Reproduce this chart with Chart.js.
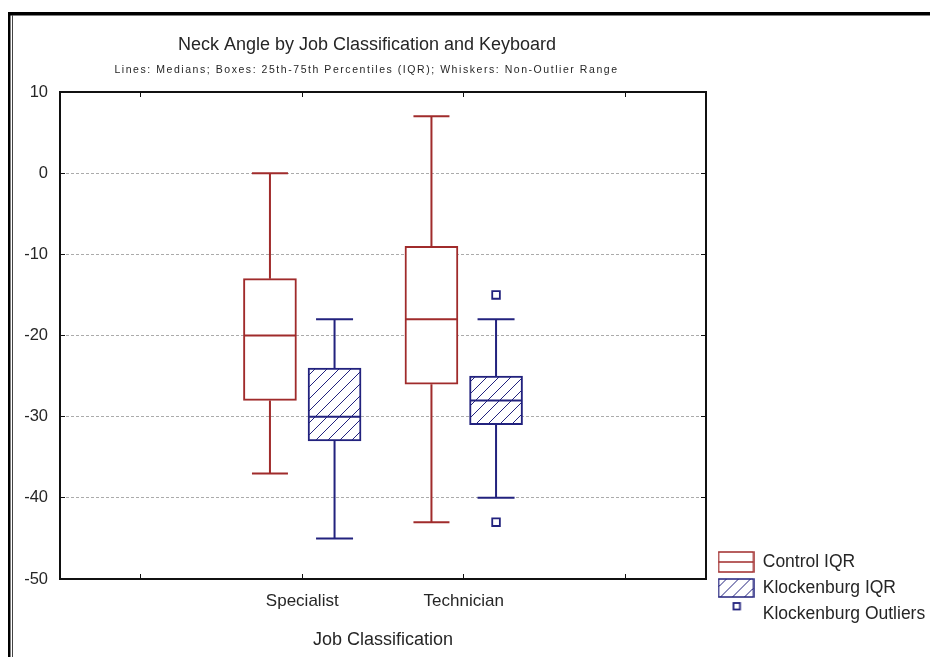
<!DOCTYPE html>
<html><head><meta charset="utf-8">
<script src="https://cdn.jsdelivr.net/npm/chart.js@4/dist/chart.umd.min.js"></script>
<style>html,body{margin:0;padding:0;background:#fff;}#wrap{width:930px;height:657px;}</style>
</head><body><div id="wrap"><canvas id="c" width="930" height="657"></canvas></div>
<script>
// ---------- data ----------
const categories = ['Specialist', 'Technician'];
const xTickLabels = ['', 'Specialist', 'Technician', ''];
const yTicks = [10, 0, -10, -20, -30, -40, -50];
const controlMin = [-37, -43];
const controlQ1 = [-28, -26];
const controlMedian = [-20, -18];
const controlQ3 = [-13, -9];
const controlMax = [0, 7];
const klockMin = [-45, -40];
const klockQ1 = [-33, -31];
const klockMedian = [-30, -28];
const klockQ3 = [-24, -25];
const klockMax = [-18, -18];
const klockOutlierCategory = ['Technician', 'Technician'];
const klockOutlierValue = [-15, -43];
const seriesNames = ['Control IQR', 'Klockenburg IQR', 'Klockenburg Outliers'];
const titleText = 'Neck Angle by Job Classification and Keyboard';
const subtitleText = 'Lines: Medians; Boxes: 25th-75th Percentiles (IQR); Whiskers: Non-Outlier Range';
const xAxisTitle = 'Job Classification';

// ---------- styles ----------
const RED = '#a02b2b';
const NAVY = '#22227e';
const TEXT = '#262626';
const GROUP_OFFSET = 0.2;
Chart.defaults.font.family = "'Liberation Sans', Arial, sans-serif";
Chart.defaults.color = TEXT;

const canvas = document.getElementById('c');
const mainCtx = canvas.getContext('2d');

function hatchTile() {
  const c = document.createElement('canvas'); c.width = 12; c.height = 12;
  const g = c.getContext('2d');
  g.fillStyle = '#fff'; g.fillRect(0, 0, 12, 12);
  g.strokeStyle = NAVY; g.lineWidth = 1;
  g.beginPath();
  g.moveTo(0, 12); g.lineTo(12, 0);
  g.moveTo(-6, 6); g.lineTo(6, -6);
  g.moveTo(6, 18); g.lineTo(18, 6);
  g.stroke();
  return c;
}
const hatchPattern = mainCtx.createPattern(hatchTile(), 'repeat');

function makeIcon(kind) {
  const c = document.createElement('canvas'); c.width = 37; c.height = 24;
  const g = c.getContext('2d');
  if (kind === 0) {
    g.strokeStyle = RED; g.lineWidth = 1.5;
    g.strokeRect(1, 2, 35, 20);
    g.beginPath(); g.moveTo(1, 12); g.lineTo(36, 12); g.stroke();
  } else if (kind === 1) {
    g.fillStyle = g.createPattern(hatchTile(), 'repeat');
    g.fillRect(1, 3, 35, 18);
    g.strokeStyle = NAVY; g.lineWidth = 1.5;
    g.strokeRect(1, 3, 35, 18);
  } else {
    g.fillStyle = '#fff'; g.strokeStyle = NAVY; g.lineWidth = 1.8;
    g.fillRect(16, 1, 6.5, 6.5); g.strokeRect(16, 1, 6.5, 6.5);
  }
  return c;
}
const icons = [makeIcon(0), makeIcon(1), makeIcon(2)];

// ---------- build datasets from arrays ----------
const catPos = c => xTickLabels.indexOf(c) + 0.5;
const pos = (i, side) => catPos(categories[i]) + side * GROUP_OFFSET;
const boxData = (q1, q3, side) => categories.map((c, i) => ({x: pos(i, side), y: [q1[i], q3[i]]}));
const whiskerData = (mn, q1, q3, mx, side) => {
  const out = [];
  categories.forEach((c, i) => {
    const x = pos(i, side);
    out.push({x, y: mx[i]}, {x, y: q3[i]}, {x, y: null}, {x, y: q1[i]}, {x, y: mn[i]}, {x, y: null});
  });
  return out;
};
const capData = (mn, mx, side) => {
  const out = [];
  categories.forEach((c, i) => { out.push({x: pos(i, side), y: mx[i]}, {x: pos(i, side), y: mn[i]}); });
  return out;
};
const medianData = (md, side) => categories.map((c, i) => ({x: pos(i, side), y: md[i]}));
const outlierData = klockOutlierCategory.map((c, k) => ({x: catPos(c) + GROUP_OFFSET, y: klockOutlierValue[k]}));

const datasets = [
  {type: 'bar', label: seriesNames[0], data: boxData(controlQ1, controlQ3, -1), backgroundColor: '#fff', borderColor: RED, borderWidth: 2, borderSkipped: false, barThickness: 53, grouped: false, order: 2},
  {type: 'bar', label: seriesNames[1], data: boxData(klockQ1, klockQ3, 1), backgroundColor: hatchPattern, borderColor: NAVY, borderWidth: 2, borderSkipped: false, barThickness: 53, grouped: false, order: 2},
  {type: 'line', label: 'Control whiskers', data: whiskerData(controlMin, controlQ1, controlQ3, controlMax, -1), borderColor: RED, borderWidth: 2, pointRadius: 0, spanGaps: false, fill: false, order: 3},
  {type: 'line', label: 'Klockenburg whiskers', data: whiskerData(klockMin, klockQ1, klockQ3, klockMax, 1), borderColor: NAVY, borderWidth: 2, pointRadius: 0, spanGaps: false, fill: false, order: 3},
  {type: 'scatter', label: 'Control caps', data: capData(controlMin, controlMax, -1), pointStyle: 'line', pointRadius: 18, pointHoverRadius: 18, pointBorderColor: RED, borderColor: RED, pointBorderWidth: 2, order: 3},
  {type: 'scatter', label: 'Klockenburg caps', data: capData(klockMin, klockMax, 1), pointStyle: 'line', pointRadius: 18.5, pointHoverRadius: 18.5, pointBorderColor: NAVY, borderColor: NAVY, pointBorderWidth: 2, order: 3},
  {type: 'scatter', label: 'Control median', data: medianData(controlMedian, -1), pointStyle: 'line', pointRadius: 25.5, pointHoverRadius: 25.5, pointBorderColor: RED, borderColor: RED, pointBorderWidth: 2, order: 0},
  {type: 'scatter', label: 'Klockenburg median', data: medianData(klockMedian, 1), pointStyle: 'line', pointRadius: 25.5, pointHoverRadius: 25.5, pointBorderColor: NAVY, borderColor: NAVY, pointBorderWidth: 2, order: 0},
  {type: 'scatter', label: seriesNames[2], data: outlierData, pointStyle: 'rect', pointRadius: 5.4, pointHoverRadius: 5.4, pointBackgroundColor: '#fff', pointBorderColor: NAVY, pointBorderWidth: 1.8, order: 1}
];

const hideEnds = (ctx, col) => (ctx.tick && (ctx.tick.value === yTicks[0] || ctx.tick.value === yTicks[yTicks.length - 1])) ? 'rgba(0,0,0,0)' : col;
const xTicksBuild = s => { s.ticks = xTickLabels.map((l, i) => ({value: i + 0.5})); };
const yTicksBuild = s => { s.ticks = yTicks.map(v => ({value: v})); };

const layoutPlugin = {
  id: 'layoutFix',
  beforeLayout(chart) {
    const lg = chart.legend;
    if (lg && !lg._fitPatched) {
      const f = lg.fit;
      lg.fit = function () { f.call(this); this.width = 0; };
      lg._fitPatched = true;
    }
  },
  afterLayout(chart) {
    const lg = chart.legend;
    if (lg) {
      lg.left = 709.5; lg.right = 930; lg.top = 544.75; lg.bottom = 657;
      lg.width = lg.right - lg.left; lg.height = lg.bottom - lg.top;
    }
    chart.boxes.forEach(b => {
      if (!b.options) return;
      if (b.options.text === titleText) { b.left = 0; b.right = 734; b.width = 734; }
      if (b.options.text === subtitleText) {
        b.left = 0; b.right = 733; b.width = 733;
        if (!b._lsPatched) {
          const d = b.draw;
          b.draw = function (a) { const c = this.ctx; c.save(); c.letterSpacing = '1.55px'; d.call(this, a); c.restore(); };
          b._lsPatched = true;
        }
      }
    });
  },
  beforeDraw(chart) {
    const c = chart.ctx;
    c.save();
    c.fillStyle = '#fff'; c.fillRect(0, 0, chart.width, chart.height);
    c.fillStyle = '#000';
    c.fillRect(8, 12, chart.width - 8, 3.5);
    c.fillRect(8, 12, 2.5, chart.height - 12);
    c.fillStyle = '#444';
    c.fillRect(12, 15, 1, chart.height - 15);
    c.restore();
  }
};

new Chart(canvas, {
  type: 'bar',
  data: {datasets},
  options: {
    responsive: false,
    animation: false,
    devicePixelRatio: 1,
    layout: {padding: 0},
    plugins: {
      tooltip: {enabled: false},
      title: {display: true, text: titleText, font: {size: 18, weight: 'normal'}, color: TEXT, padding: {top: 34, bottom: 4}},
      subtitle: {display: true, text: subtitleText, font: {size: 10.5, weight: 'normal'}, color: TEXT, padding: {top: 4, bottom: 0}},
      legend: {
        display: true, position: 'right', align: 'start',
        labels: {
          usePointStyle: true, pointStyleWidth: 36, padding: 8.5, font: {size: 17.5}, color: TEXT,
          generateLabels: () => seriesNames.map((n, i) => ({text: n, pointStyle: icons[i], fontColor: TEXT, fillStyle: 'rgba(0,0,0,0)', strokeStyle: 'rgba(0,0,0,0)', lineWidth: 0, hidden: false, datasetIndex: i}))
        }
      }
    },
    scales: {
      x: {
        type: 'linear', position: 'bottom', min: 0, max: xTickLabels.length, offset: false,
        afterBuildTicks: xTicksBuild,
        afterFit: s => { s.height = 78; },
        ticks: {callback: v => xTickLabels[Math.floor(v)], font: {size: 17}, padding: 17, maxRotation: 0, autoSkip: false, color: TEXT},
        grid: {drawOnChartArea: false, drawTicks: true, tickLength: -5, tickColor: '#111', tickWidth: 1, offset: false},
        border: {display: true, color: '#111', width: 2},
        title: {display: true, text: xAxisTitle, font: {size: 18}, padding: {top: 0, bottom: 6}, color: TEXT}
      },
      x2: {
        type: 'linear', position: 'top', min: 0, max: xTickLabels.length, offset: false, display: true,
        afterBuildTicks: xTicksBuild,
        afterFit: s => { s.height = 15.8; },
        ticks: {display: false},
        grid: {drawOnChartArea: false, drawTicks: true, tickLength: -5, tickColor: '#111', tickWidth: 1, offset: false},
        border: {display: true, color: '#111', width: 2}
      },
      y: {
        type: 'linear', position: 'left', min: yTicks[yTicks.length - 1], max: yTicks[0],
        afterBuildTicks: yTicksBuild,
        afterFit: s => { s.width = 60; },
        ticks: {font: {size: 16.5}, padding: 17, color: TEXT},
        grid: {color: ctx => hideEnds(ctx, '#ababab'), lineWidth: 1, tickLength: -5, tickColor: ctx => hideEnds(ctx, '#111'), tickWidth: 1, borderDash: [3, 2]},
        border: {display: true, color: '#111', width: 2, dash: [3, 2]}
      },
      y2: {
        type: 'linear', position: 'right', min: yTicks[yTicks.length - 1], max: yTicks[0], display: true,
        afterBuildTicks: yTicksBuild,
        afterFit: s => { s.width = 224; },
        ticks: {display: false},
        grid: {drawOnChartArea: false, tickLength: -5, tickColor: ctx => hideEnds(ctx, '#111'), tickWidth: 1},
        border: {display: true, color: '#111', width: 2}
      }
    }
  },
  plugins: [layoutPlugin]
});
</script>
</body></html>
